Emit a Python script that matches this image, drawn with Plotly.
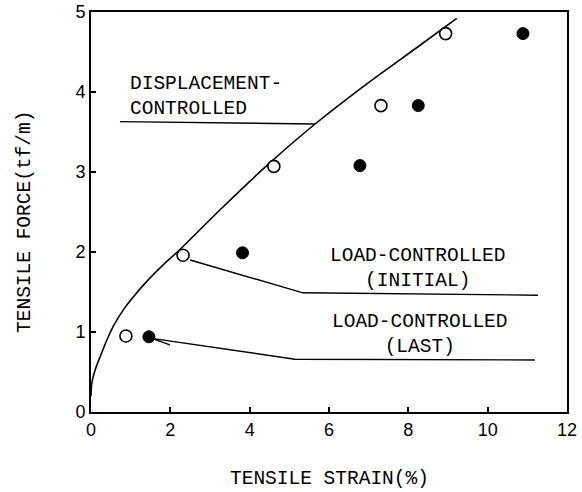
import plotly.graph_objects as go

# Tensile force vs. tensile strain for a geotextile under different loading modes
x_ticks = [0, 2, 4, 6, 8, 10, 12]
y_ticks = [0, 1, 2, 3, 4, 5]

# Displacement-controlled test curve
curve_strain = [0, 0.02, 0.1, 0.23, 0.4, 0.56, 0.82, 1.07, 1.40, 1.82, 2.24, 3.3, 4.5, 5.65, 7.03, 8.2, 9.22]
curve_force = [0.20, 0.36, 0.52, 0.69, 0.90, 1.07, 1.28, 1.44, 1.63, 1.84, 2.03, 2.55, 3.11, 3.60, 4.13, 4.55, 4.92]

# Load-controlled test, strain at initial loading (open circles)
initial_strain = [0.88, 2.32, 4.61, 7.31, 8.94]
initial_force = [0.95, 1.96, 3.07, 3.83, 4.73]

# Load-controlled test, strain at last loading (filled circles)
last_strain = [1.46, 3.82, 6.78, 8.25, 10.89]
last_force = [0.94, 1.99, 3.08, 3.83, 4.73]

# Label leader lines
disp_leader_x = [0.73, 5.65]
disp_leader_y = [3.63, 3.60]
initial_leader_x = [2.50, 5.34, 11.27]
initial_leader_y = [1.90, 1.49, 1.46]
last_leader_x = [1.99, 1.53, 5.14, 11.19]
last_leader_y = [0.84, 0.92, 0.66, 0.65]

label_font = dict(family="Liberation Mono", size=19.5, color="black")

fig = go.Figure()

fig.add_trace(go.Scatter(
    x=curve_strain, y=curve_force, mode="lines",
    line=dict(color="black", width=1.6, shape="spline", smoothing=0.8),
    hoverinfo="skip", showlegend=False,
))

for lx, ly in [(disp_leader_x, disp_leader_y),
               (initial_leader_x, initial_leader_y),
               (last_leader_x, last_leader_y)]:
    fig.add_trace(go.Scatter(
        x=lx, y=ly, mode="lines",
        line=dict(color="black", width=1.4),
        hoverinfo="skip", showlegend=False,
    ))

fig.add_trace(go.Scatter(
    x=initial_strain, y=initial_force, mode="markers",
    marker=dict(symbol="circle", size=12, color="white",
                line=dict(color="black", width=1.6)),
    showlegend=False,
))
fig.add_trace(go.Scatter(
    x=last_strain, y=last_force, mode="markers",
    marker=dict(symbol="circle", size=12, color="black",
                line=dict(color="black", width=1)),
    showlegend=False,
))

fig.add_annotation(x=0.94, y=3.94, xref="x", yref="y", showarrow=False,
                   text="DISPLACEMENT-<br>CONTROLLED", align="left",
                   xanchor="left", yanchor="middle", font=label_font)
fig.add_annotation(x=8.24, y=1.80, xref="x", yref="y", showarrow=False,
                   text="LOAD-CONTROLLED<br>(INITIAL)", align="center",
                   xanchor="center", yanchor="middle", font=label_font)
fig.add_annotation(x=8.29, y=0.975, xref="x", yref="y", showarrow=False,
                   text="LOAD-CONTROLLED<br>(LAST)", align="center",
                   xanchor="center", yanchor="middle", font=label_font)

# Axis titles
fig.add_annotation(x=0.5, y=-0.1675, xref="paper", yref="paper", showarrow=False,
                   text="TENSILE STRAIN(%)", xanchor="center", yanchor="middle",
                   font=label_font)
fig.add_annotation(x=-0.1387, y=0.475, xref="paper", yref="paper", showarrow=False,
                   text="TENSILE FORCE(tf/m)", textangle=-90,
                   xanchor="center", yanchor="middle", font=label_font)

axis_common = dict(
    showline=True, linecolor="black", linewidth=2, mirror=True,
    ticks="inside", ticklen=5, tickwidth=1.5, tickcolor="black",
    showgrid=False, zeroline=False, automargin=False,
    tickfont=dict(family="Liberation Sans", size=18, color="black"),
)

fig.update_xaxes(range=[0, 12], tickvals=x_ticks, ticktext=[str(v) for v in x_ticks],
                 **axis_common)
fig.update_yaxes(range=[0, 5], tickvals=y_ticks, ticktext=[str(v) for v in y_ticks],
                 **axis_common)

fig.update_layout(
    width=582, height=492,
    margin=dict(l=91, r=15, t=12, b=80),
    plot_bgcolor="white", paper_bgcolor="white",
    showlegend=False,
)

fig.write_html("out.html")
